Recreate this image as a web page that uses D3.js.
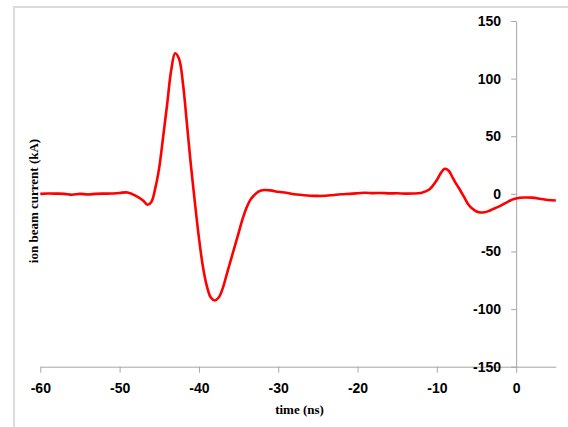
<!DOCTYPE html>
<html>
<head>
<meta charset="utf-8">
<script src="https://cdn.jsdelivr.net/npm/d3@7/dist/d3.min.js"></script>
<style>
  html, body { margin: 0; padding: 0; background: #ffffff; }
  svg { display: block; }
</style>
</head>
<body>
<svg id="chart" width="568" height="427"></svg>
<script>
// time (ns)
const timeNs = [-60, -59, -58, -57, -56, -55, -54, -53, -52, -51, -50, -49, -48, -47, -46.5, -46, -45.5, -45, -44.5, -44, -43.5, -43, -42.5, -42, -41.5, -41, -40.5, -40, -39.5, -39, -38.5, -38, -37.5, -37, -36.5, -36, -35.5, -35, -34.5, -34, -33.5, -33, -32.5, -32, -31, -30, -29, -28, -27, -26, -25, -24, -23, -22, -21, -20, -19, -18, -17, -16, -15, -14, -13, -12, -11, -10, -9.5, -9, -8.5, -8, -7.5, -7, -6.5, -6, -5.5, -5, -4.5, -4, -3.5, -3, -2.5, -2, -1.5, -1, -0.5, 0, 1, 2, 3, 4, 5];
// ion beam current (kA)
const currentKA = [0, 0.3, 0.2, 0, -0.8, 0, -0.5, 0, 0.2, 0.3, 0.8, 1.2, -1.5, -6, -9.5, -7, 5, 23, 50, 78, 107, 122, 117, 95, 60, 24, -8, -38, -63, -80, -90, -92.5, -90, -82, -70, -58, -46, -34, -22, -12, -5, -1, 2, 3.2, 3, 1.8, 1, -0.3, -1, -1.6, -1.8, -1.7, -1, -0.4, 0, 0.5, 1, 0.6, 0.8, 0.4, 0.5, 0.2, 0.3, 0.8, 3.5, 12, 18, 21.7, 20, 14, 8, 2.5, -3.5, -9.5, -13, -15.3, -16.2, -16, -15, -13.5, -12, -10.5, -8.5, -6.7, -5, -4, -3.2, -3.3, -4.2, -5.3, -5.8];
const xTicks = [-60, -50, -40, -30, -20, -10, 0];
const yTicks = [-150, -100, -50, 0, 50, 100, 150];
const xTitle = "time (ns)";
const yTitle = "ion beam current (kA)";

const data = timeNs.map((t, i) => ({ t: t, v: currentKA[i] }));

const svg = d3.select("#chart");

// outer frame
svg.append("rect")
  .attr("x", 14).attr("y", 7)
  .attr("width", 600).attr("height", 440)
  .attr("fill", "none")
  .attr("stroke", "#cfcfcf")
  .attr("stroke-width", 1.5);

const x = d3.scaleLinear().domain([-60, 5]).range([40.3, 555.8]);
const y = d3.scaleLinear().domain([-150, 150]).range([366.7, 21]);

const axisColor = "#a6a6a6";
const fmt = d => String(d);

// x axis
const gx = svg.append("g")
  .attr("transform", `translate(0,${y(-150)})`)
  .call(d3.axisBottom(x).tickValues(xTicks).tickSize(6).tickSizeOuter(0).tickPadding(10.5)
    .tickFormat(fmt));
gx.select(".domain").attr("stroke", axisColor);
gx.selectAll(".tick line").attr("stroke", axisColor);
gx.selectAll(".tick text")
  .attr("fill", "#000")
  .style("font-family", "'Liberation Sans', Arial, sans-serif")
  .style("font-weight", "bold")
  .style("font-size", "14px");

// y axis
const gy = svg.append("g")
  .attr("transform", `translate(${x(0)},0)`)
  .call(d3.axisLeft(y).tickValues(yTicks).tickSize(5).tickSizeOuter(0).tickPadding(10)
    .tickFormat(fmt));
gy.select(".domain").attr("stroke", axisColor);
gy.selectAll(".tick line").attr("stroke", axisColor);
gy.selectAll(".tick text")
  .attr("fill", "#000")
  .style("font-family", "'Liberation Sans', Arial, sans-serif")
  .style("font-weight", "bold")
  .style("font-size", "14px");

// line
const line = d3.line()
  .x(d => x(d.t))
  .y(d => y(d.v))
  .curve(d3.curveCatmullRom.alpha(0.5));

svg.append("path")
  .datum(data)
  .attr("fill", "none")
  .attr("stroke", "#ff0000")
  .attr("stroke-width", 2.6)
  .attr("stroke-linejoin", "round")
  .attr("d", line);

// axis titles
svg.append("text")
  .attr("x", 299.5).attr("y", 414)
  .attr("text-anchor", "middle")
  .style("font-family", "'Liberation Serif', 'Times New Roman', serif")
  .style("font-weight", "bold")
  .style("font-size", "13px")
  .attr("fill", "#000")
  .text(xTitle);

svg.append("text")
  .attr("transform", "translate(37.5,201) rotate(-90)")
  .attr("text-anchor", "middle")
  .style("font-family", "'Liberation Serif', 'Times New Roman', serif")
  .style("font-weight", "bold")
  .style("font-size", "13px")
  .attr("fill", "#000")
  .text(yTitle);
</script>
</body>
</html>
